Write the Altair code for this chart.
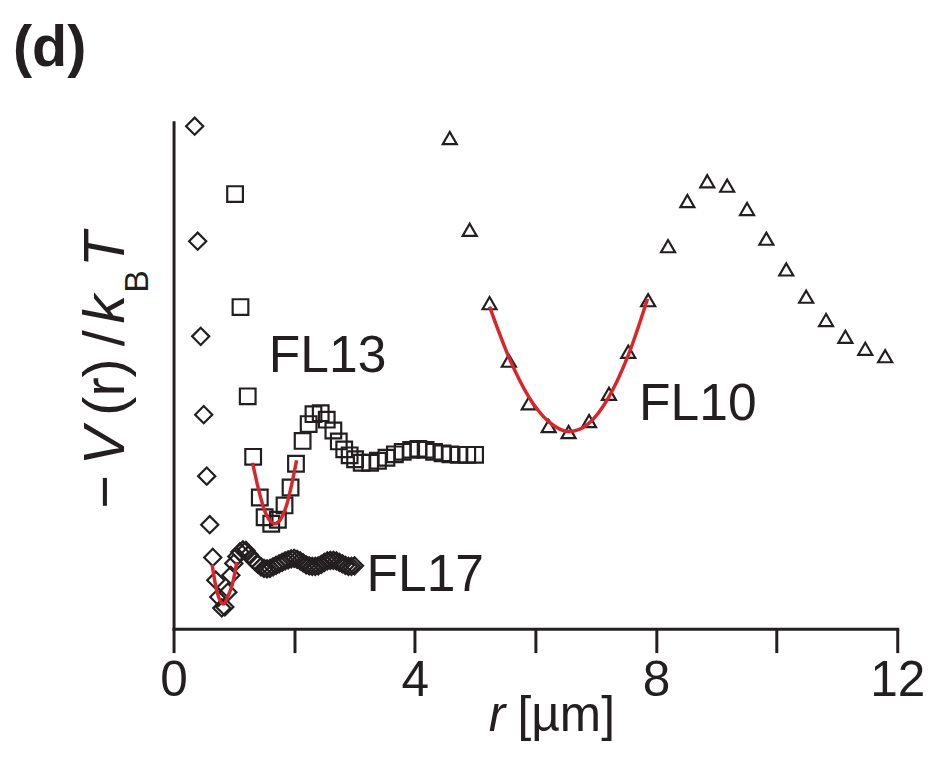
import altair as alt
import pandas as pd

# ---------------- data ----------------
# FL17 (diamonds)
fl17_r = [0.35, 0.40, 0.45, 0.50, 0.55, 0.60, 0.65, 0.70, 0.75, 0.80,
          0.85, 0.90, 0.95, 1.00, 1.05, 1.10, 1.15, 1.20, 1.25, 1.30,
          1.35, 1.40, 1.45, 1.50, 1.55, 1.60, 1.65, 1.70, 1.75, 1.80,
          1.85, 1.90, 1.95, 2.00, 2.05, 2.10, 2.15, 2.20, 2.25, 2.30,
          2.35, 2.40, 2.45, 2.50, 2.55, 2.60, 2.65, 2.70, 2.75, 2.80,
          2.85, 2.90, 2.95, 3.00]
fl17_v = [10.14, 7.82, 5.90, 4.32, 3.08, 2.10, 1.44, 0.98, 0.64, 0.42,
          0.44, 0.74, 1.08, 1.32, 1.46, 1.55, 1.59, 1.58, 1.50, 1.42,
          1.36, 1.30, 1.25, 1.22, 1.21, 1.22, 1.25, 1.28, 1.31, 1.34,
          1.37, 1.39, 1.41, 1.42, 1.40, 1.37, 1.33, 1.29, 1.27, 1.26,
          1.26, 1.27, 1.30, 1.34, 1.37, 1.38, 1.38, 1.37, 1.34, 1.31,
          1.28, 1.26, 1.26, 1.27]

# FL13 (squares)
fl13_r = [1.02, 1.11, 1.23, 1.32, 1.43, 1.51, 1.62, 1.73, 1.84, 1.94,
          2.03, 2.14, 2.24, 2.32, 2.44, 2.54, 2.65, 2.74, 2.83, 2.92,
          3.01, 3.12, 3.26, 3.39, 3.53, 3.67, 3.80, 3.94, 4.06, 4.18,
          4.32, 4.46, 4.59, 4.73, 4.87, 5.00]
fl13_v = [8.77, 6.49, 4.69, 3.47, 2.65, 2.25, 2.12, 2.20, 2.49, 2.85,
          3.33, 3.79, 4.13, 4.33, 4.35, 4.22, 4.00, 3.78, 3.62, 3.50,
          3.42, 3.35, 3.35, 3.39, 3.45, 3.52, 3.57, 3.61, 3.63, 3.61,
          3.57, 3.54, 3.52, 3.51, 3.51, 3.51]

# FL10 (triangles)
fl10_r = [4.58, 4.91, 5.24, 5.56, 5.89, 6.22, 6.55, 6.89, 7.22, 7.54,
          7.87, 8.20, 8.52, 8.85, 9.18, 9.51, 9.83, 10.16, 10.49, 10.82,
          11.14, 11.47, 11.80]
fl10_v = [9.90, 8.05, 6.57, 5.41, 4.55, 4.09, 3.97, 4.19, 4.74, 5.59,
          6.63, 7.72, 8.63, 9.03, 8.94, 8.47, 7.87, 7.25, 6.70, 6.23,
          5.89, 5.65, 5.50]

# red fitted curves
fit17_r = [0.64, 0.70, 0.76, 0.83, 0.89, 0.98, 1.05]
fit17_v = [1.29, 0.86, 0.60, 0.50, 0.62, 0.92, 1.35]
fit13_r = [1.31, 1.40, 1.50, 1.60, 1.68, 1.78, 1.88, 1.96, 2.04]
fit13_v = [3.35, 2.86, 2.42, 2.18, 2.12, 2.22, 2.52, 2.92, 3.40]
fit10_r = [5.24, 5.56, 5.89, 6.22, 6.56, 6.88, 7.21, 7.54, 7.86]
fit10_v = [6.50, 5.48, 4.68, 4.18, 3.98, 4.14, 4.66, 5.52, 6.66]

series_names = ["FL17", "FL13", "FL10"]
series_shapes = ["diamond", "square", "triangle-up"]
series_sizes = [300, 200, 330]

label_text = ["FL13", "FL17", "FL10"]
label_r = [1.58, 3.20, 7.72]
label_v = [5.18, 0.76, 4.22]

x_ticks = [0, 2, 4, 6, 8, 10, 12]

# ---------------- styling ----------------
INK = "#231f20"
RED = "#d9262b"
NARROW = "Liberation Sans Narrow, Arial Narrow, Liberation Sans, Arial, sans-serif"
SANS = "Liberation Sans, Arial, sans-serif"

pts = pd.concat([
    pd.DataFrame({"r": fl17_r, "v": fl17_v, "series": "FL17"}),
    pd.DataFrame({"r": fl13_r, "v": fl13_v, "series": "FL13"}),
    pd.DataFrame({"r": fl10_r, "v": fl10_v, "series": "FL10"}),
], ignore_index=True)

fits = pd.concat([
    pd.DataFrame({"r": fit17_r, "v": fit17_v, "series": "FL17"}),
    pd.DataFrame({"r": fit13_r, "v": fit13_v, "series": "FL13"}),
    pd.DataFrame({"r": fit10_r, "v": fit10_v, "series": "FL10"}),
], ignore_index=True)

labels = pd.DataFrame({"r": label_r, "v": label_v, "t": label_text})

x_scale = alt.Scale(domain=[0, 12], nice=False, zero=False)
y_scale = alt.Scale(domain=[0, 10.22], nice=False, zero=False)

x_axis = alt.Axis(values=x_ticks,
                  labelExpr="datum.value % 4 == 0 ? datum.label : ''",
                  tickSize=24, tickWidth=3, tickColor=INK,
                  domainWidth=3, domainColor=INK, domainCap="square",
                  labelFont=NARROW, labelFontSize=50, labelColor=INK,
                  labelPadding=3, labelOverlap=False, labelFlush=False,
                  grid=False, title=None)
y_axis = alt.Axis(ticks=False, labels=False, domainWidth=3, domainColor=INK,
                  domainCap="square", grid=False, title=None)

X = alt.X("r:Q", scale=x_scale, axis=x_axis)
Y = alt.Y("v:Q", scale=y_scale, axis=y_axis)

points = alt.Chart(pts).mark_point(filled=False, strokeWidth=2.2, color=INK, opacity=1).encode(
    x=X, y=Y,
    shape=alt.Shape("series:N", scale=alt.Scale(domain=series_names, range=series_shapes), legend=None),
    size=alt.Size("series:N", scale=alt.Scale(domain=series_names, range=series_sizes), legend=None),
)

lines = alt.Chart(fits).mark_line(color=RED, strokeWidth=3.5, interpolate="monotone").encode(
    x=X, y=Y, detail="series:N"
)

series_labels = alt.Chart(labels).mark_text(
    font=NARROW, fontSize=52, color=INK, align="left", baseline="alphabetic"
).encode(x=X, y=Y, text="t:N")


def txt(s, x, y, size, style="normal", weight="normal", angle=0, font=SANS):
    return alt.Chart(pd.DataFrame({"t": [s]})).mark_text(
        font=font, fontSize=size, fontStyle=style, fontWeight=weight,
        angle=angle, align="left", baseline="alphabetic", color=INK
    ).encode(text="t:N", x=alt.value(x), y=alt.value(y))


YT = 58
annotations = [
    # y title: −V(r) / k_B T  (rotated)
    txt("\u2212", -50, 390, YT, angle=270),
    txt("V", -50, 346, YT, style="italic", angle=270),
    txt("(r)", -50, 296, YT, angle=270),
    txt("/", -50, 226, YT, angle=270),
    txt("k", -50, 203, YT, style="italic", angle=270),
    txt("B", -26, 172, 34, angle=270),
    txt("T", -50, 146, YT, style="italic", angle=270),
    # x title: r [µm]
    txt("r", 318, 614, 50, style="italic", font=NARROW),
    txt("[\u00b5m]", 347, 614, 50, font=NARROW),
    # panel label
    txt("(d)", -162, -57, 58, weight="bold", font=NARROW),
]

chart = alt.layer(points, lines, series_labels, *annotations).properties(
    width=730, height=511,
    autosize=alt.AutoSizeParams(type="none"),
    padding={"left": 167, "top": 112, "right": 27, "bottom": 116},
).configure_view(stroke=None)

chart.save("out.html", embed_options={"renderer": "svg", "actions": False})
